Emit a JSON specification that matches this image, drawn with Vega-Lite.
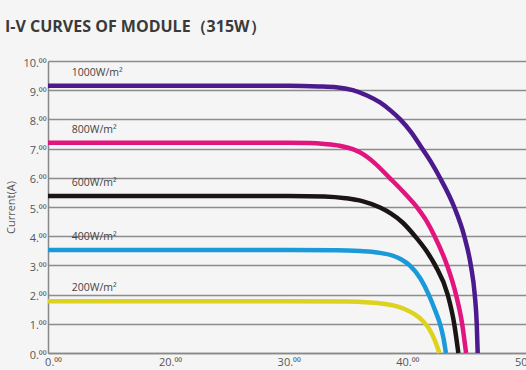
{
  "$schema": "https://vega.github.io/schema/vega-lite/v6.json",
  "autosize": {"type": "none"},
  "width": 478,
  "height": 292,
  "padding": {"left": 48, "top": 61, "right": 0, "bottom": 17},
  "background": "#f5f5f5",
  "title": {
    "text": "I-V CURVES OF MODULE（315W）",
    "anchor": "start",
    "frame": "group",
    "dx": -43,
    "offset": 22,
    "fontSize": 16,
    "fontWeight": "bold",
    "font": "Open Sans",
    "color": "#3a3a3a"
  },
  "config": {
    "view": {"stroke": null},
    "font": "Open Sans"
  },
  "datasets": {
    "curves": [
      {"series": "1000", "V": 0, "I": 9.15},
      {"series": "1000", "V": 20, "I": 9.15},
      {"series": "1000", "V": 30, "I": 9.15},
      {"series": "1000", "V": 32.5, "I": 9.13},
      {"series": "1000", "V": 34.0, "I": 9.1},
      {"series": "1000", "V": 35.4, "I": 9.0},
      {"series": "1000", "V": 36.6, "I": 8.82},
      {"series": "1000", "V": 37.7, "I": 8.58},
      {"series": "1000", "V": 38.6, "I": 8.3},
      {"series": "1000", "V": 39.4, "I": 8.0},
      {"series": "1000", "V": 40.35, "I": 7.55},
      {"series": "1000", "V": 41.25, "I": 7.0},
      {"series": "1000", "V": 42.05, "I": 6.5},
      {"series": "1000", "V": 42.75, "I": 6.0},
      {"series": "1000", "V": 43.95, "I": 5.0},
      {"series": "1000", "V": 44.8, "I": 4.0},
      {"series": "1000", "V": 45.35, "I": 3.0},
      {"series": "1000", "V": 45.68, "I": 2.0},
      {"series": "1000", "V": 45.85, "I": 1.0},
      {"series": "1000", "V": 45.93, "I": 0},
      {"series": "800", "V": 0, "I": 7.2},
      {"series": "800", "V": 30, "I": 7.2},
      {"series": "800", "V": 31.8, "I": 7.19},
      {"series": "800", "V": 33.0, "I": 7.16},
      {"series": "800", "V": 34.3, "I": 7.1},
      {"series": "800", "V": 35.4, "I": 6.98},
      {"series": "800", "V": 36.3, "I": 6.8},
      {"series": "800", "V": 37.2, "I": 6.52},
      {"series": "800", "V": 38.5, "I": 6.0},
      {"series": "800", "V": 39.75, "I": 5.48},
      {"series": "800", "V": 40.85, "I": 4.97},
      {"series": "800", "V": 41.65, "I": 4.5},
      {"series": "800", "V": 42.3, "I": 4.0},
      {"series": "800", "V": 43.35, "I": 3.0},
      {"series": "800", "V": 44.1, "I": 2.0},
      {"series": "800", "V": 44.62, "I": 1.0},
      {"series": "800", "V": 44.95, "I": 0},
      {"series": "600", "V": 0, "I": 5.38},
      {"series": "600", "V": 30, "I": 5.38},
      {"series": "600", "V": 33.0, "I": 5.36},
      {"series": "600", "V": 34.8, "I": 5.3},
      {"series": "600", "V": 36.2, "I": 5.2},
      {"series": "600", "V": 37.7, "I": 4.98},
      {"series": "600", "V": 38.6, "I": 4.78},
      {"series": "600", "V": 39.6, "I": 4.47},
      {"series": "600", "V": 40.65, "I": 4.0},
      {"series": "600", "V": 41.6, "I": 3.5},
      {"series": "600", "V": 42.35, "I": 3.0},
      {"series": "600", "V": 43.4, "I": 2.0},
      {"series": "600", "V": 43.95, "I": 1.0},
      {"series": "600", "V": 44.3, "I": 0},
      {"series": "400", "V": 0, "I": 3.53},
      {"series": "400", "V": 30, "I": 3.53},
      {"series": "400", "V": 34.0, "I": 3.52},
      {"series": "400", "V": 36.0, "I": 3.49},
      {"series": "400", "V": 37.5, "I": 3.44},
      {"series": "400", "V": 38.8, "I": 3.33},
      {"series": "400", "V": 39.5, "I": 3.2},
      {"series": "400", "V": 40.2, "I": 3.0},
      {"series": "400", "V": 41.1, "I": 2.55},
      {"series": "400", "V": 41.8, "I": 2.0},
      {"series": "400", "V": 42.35, "I": 1.45},
      {"series": "400", "V": 42.75, "I": 1.0},
      {"series": "400", "V": 43.05, "I": 0.5},
      {"series": "400", "V": 43.25, "I": 0},
      {"series": "200", "V": 0, "I": 1.77},
      {"series": "200", "V": 30, "I": 1.77},
      {"series": "200", "V": 35.0, "I": 1.76},
      {"series": "200", "V": 36.5, "I": 1.74},
      {"series": "200", "V": 37.7, "I": 1.7},
      {"series": "200", "V": 38.8, "I": 1.63},
      {"series": "200", "V": 39.8, "I": 1.5},
      {"series": "200", "V": 40.6, "I": 1.33},
      {"series": "200", "V": 41.25, "I": 1.12},
      {"series": "200", "V": 41.8, "I": 0.85},
      {"series": "200", "V": 42.3, "I": 0.45},
      {"series": "200", "V": 42.7, "I": 0}
    ],
    "labels": [
      {"series": "1000", "label": "1000W/m²", "Isc": 9.15},
      {"series": "800", "label": "800W/m²", "Isc": 7.2},
      {"series": "600", "label": "600W/m²", "Isc": 5.38},
      {"series": "400", "label": "400W/m²", "Isc": 3.53},
      {"series": "200", "label": "200W/m²", "Isc": 1.77}
    ]
  },
  "layer": [
    {
      "data": {"name": "curves"},
      "mark": {"type": "line", "strokeWidth": 4.5, "interpolate": "monotone", "strokeCap": "butt"},
      "encoding": {
        "x": {
          "field": "V",
          "type": "quantitative",
          "scale": {"domain": [0, 20, 50], "range": [0, 122, 478]},
          "axis": {
            "values": [0, 20, 30, 40, 50],
            "tickCount": 5,
            "format": "d",
            "labelExpr": "datum.label + '.⁰⁰'",
            "labelOverlap": false,
            "labelFlush": false,
            "labelOffset": {"condition": {"test": "datum.value == 0", "value": 5}, "value": 0},
            "title": null,
            "grid": false,
            "ticks": false,
            "domain": true,
            "domainColor": "#888888",
            "domainWidth": 1.5,
            "labelFontSize": 11,
            "labelColor": "#555555",
            "labelPadding": 3
          }
        },
        "y": {
          "field": "I",
          "type": "quantitative",
          "scale": {"domain": [0, 10], "nice": false},
          "axis": {
            "values": [0, 1, 2, 3, 4, 5, 6, 7, 8, 9, 10],
            "tickCount": 11,
            "format": "d",
            "labelExpr": "datum.label + '.⁰⁰'",
            "labelOverlap": false,
            "title": "Current(A)",
            "titleFontSize": 11,
            "titleFontWeight": "normal",
            "titleColor": "#555555",
            "titlePadding": 6,
            "grid": true,
            "gridColor": "#8c8c8c",
            "gridWidth": 1.3,
            "ticks": false,
            "domain": true,
            "domainColor": "#888888",
            "domainWidth": 1.5,
            "labelFontSize": 11,
            "labelColor": "#555555",
            "labelPadding": 2,
            "labelOffset": 2
          }
        },
        "color": {
          "field": "series",
          "type": "nominal",
          "scale": {
            "domain": ["1000", "800", "600", "400", "200"],
            "range": ["#4b1a8c", "#e0157e", "#1a1414", "#1a9ad8", "#ddd21e"]
          },
          "legend": null
        },
        "detail": {"field": "series"}
      }
    },
    {
      "data": {"name": "labels"},
      "mark": {"type": "text", "align": "left", "baseline": "middle", "dy": -13, "fontSize": 10.5, "color": "#444444"},
      "encoding": {
        "x": {"datum": 3.9, "type": "quantitative"},
        "y": {"field": "Isc", "type": "quantitative"},
        "text": {"field": "label"}
      }
    }
  ]
}
